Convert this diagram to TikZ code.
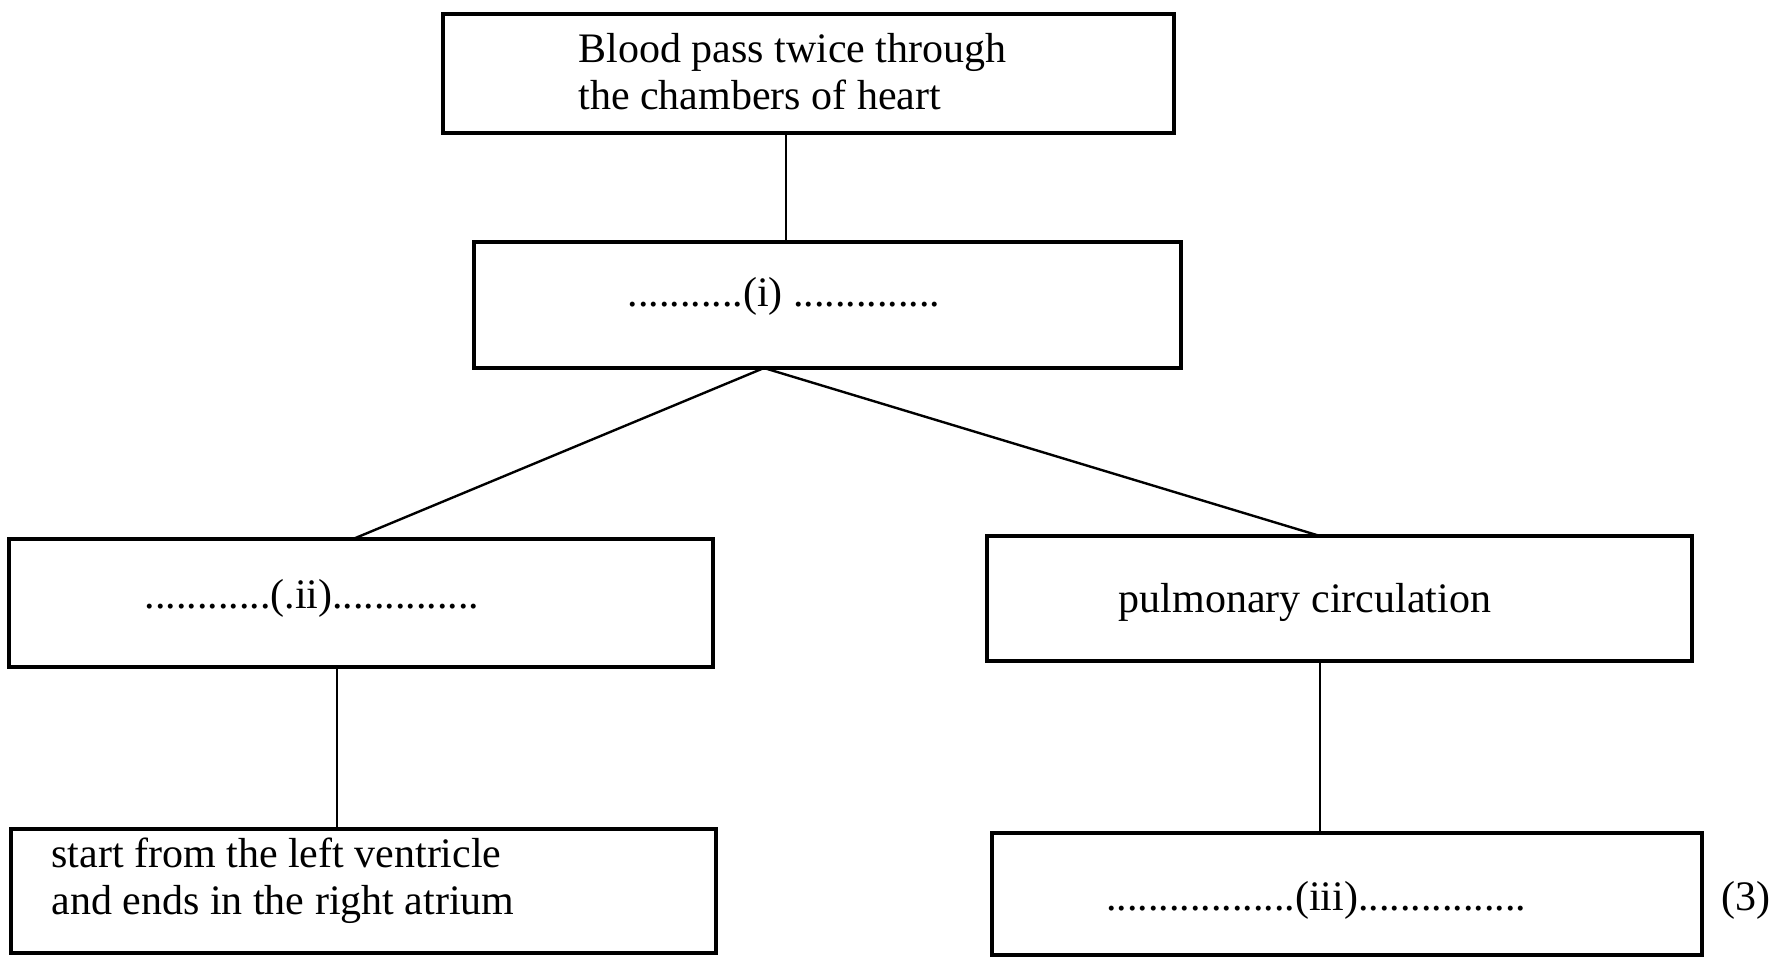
\documentclass[tikz,border=0pt]{standalone}
\usepackage{fontspec}
\setmainfont{Liberation Serif}
\begin{document}
\begin{tikzpicture}[x=0.5pt,y=-0.5pt,
  box/.style={draw,line width=1.6pt,inner sep=0pt,outer sep=0pt},
  lbl/.style={inner sep=0pt,font=\fontsize{21}{23.5}\selectfont,align=left},
  conn/.style={line width=1.2pt}]
\useasboundingbox (0,0) rectangle (1787,958);
% boxes
\node[box,minimum width=365.5pt,minimum height=59.5pt] (top) at (808.5,73.5) {};
\node[box,minimum width=353.5pt,minimum height=63pt] (bi) at (827.5,305) {};
\node[box,minimum width=352pt,minimum height=64pt] (bii) at (361,603) {};
\node[box,minimum width=352.5pt,minimum height=62.5pt] (pulm) at (1339.5,598.5) {};
\node[box,minimum width=352.5pt,minimum height=62pt] (bl) at (363.5,891) {};
\node[box,minimum width=355pt,minimum height=61pt] (biii) at (1347,894) {};
% texts
\node[lbl,anchor=west] (ttop) at (578,71.5) {Blood pass twice through\\the chambers of heart};
\node[lbl] (ti) at (784,296) {...........(i) ..............};
\node[lbl] (tii) at (312,598) {............(.ii)..............};
\node[lbl] (tpulm) at (1305,602) {pulmonary circulation};
\node[lbl,anchor=west] (tbl) at (51,880.5) {start from the left ventricle\\and ends in the right atrium};
\node[lbl] (tiii) at (1316,900) {..................(iii)................};
\node[lbl] (mark) at (1746,900) {(3)};
% connector x positions
\coordinate (c1) at (786,0);
\coordinate (c2) at (764,0);
\coordinate (c3) at (353,0);
\coordinate (c4) at (1320,0);
\coordinate (c5) at (337,0);
\draw[conn] (top.south -| c1) -- (bi.north -| c1);
\draw[conn] (bi.south -| c2) -- (bii.north -| c3);
\draw[conn] (bi.south -| c2) -- (pulm.north -| c4);
\draw[conn] (bii.south -| c5) -- (bl.north -| c5);
\draw[conn] (pulm.south -| c4) -- (biii.north -| c4);
\end{tikzpicture}
\end{document}
